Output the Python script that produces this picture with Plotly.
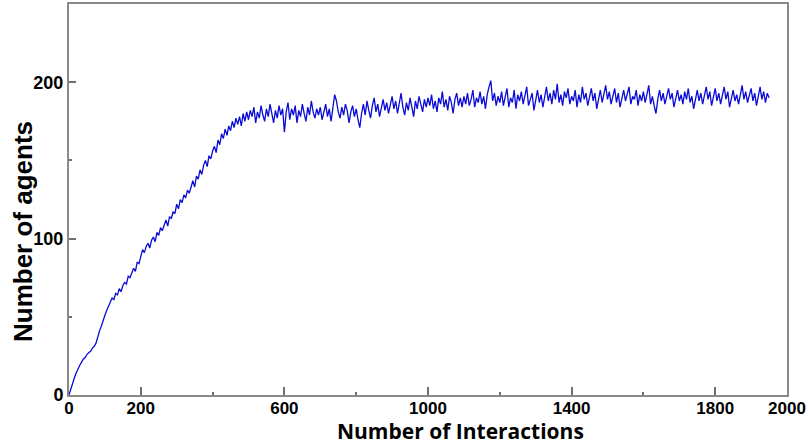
import plotly.graph_objects as go

# Interactions sampled every 5 steps (0 .. 1950)
interactions = list(range(0, 1951, 5))

# Number of agents (every 5 interactions)
agents = [
    0, 4, 8, 11, 14, 17, 19, 21, 23, 24, 26, 27, 28, 30, 31, 33, 38, 41, 44, 48,
    51, 54, 57, 59, 62, 61, 65, 64, 68, 66, 70, 72, 71, 76, 75, 78, 81, 79, 85, 84,
    89, 93, 91, 95, 97, 94, 99, 101, 98, 104, 102, 107, 105, 109, 112, 108, 114, 113, 117, 116,
    122, 119, 125, 123, 128, 126, 131, 129, 134, 137, 133, 140, 138, 144, 141, 147, 150, 146, 153, 151,
    156, 159, 155, 163, 160, 167, 164, 170, 166, 172, 169, 175, 171, 177, 173, 178, 172, 180, 175, 181,
    176, 182, 178, 184, 174, 181, 177, 185, 179, 175, 183, 178, 186, 180, 174, 182, 177, 185, 179, 183,
    168, 181, 187, 176, 183, 179, 185, 174, 182, 178, 186, 180, 175, 184, 179, 188, 181, 177, 183, 179,
    184, 176, 182, 186, 178, 183, 175, 185, 192, 188, 181, 177, 184, 179, 186, 182, 174, 181, 185, 178,
    183, 176, 171, 180, 186, 179, 188, 182, 177, 185, 190, 181, 186, 178, 184, 189, 182, 187, 180, 185,
    191, 183, 188, 180, 186, 193, 184, 179, 187, 182, 190, 185, 178, 188, 183, 191, 185, 181, 189, 184,
    190, 185, 192, 183, 188, 181, 190, 186, 194, 184, 189, 182, 191, 187, 180, 189, 193, 185, 190, 184,
    191, 186, 193, 185, 189, 195, 184, 190, 187, 194, 186, 191, 183, 192, 197, 201, 188, 193, 185, 191,
    187, 194, 185, 191, 196, 184, 190, 187, 195, 183, 192, 188, 194, 186, 191, 197, 185, 190, 193, 182,
    190, 195, 187, 192, 184, 191, 197, 188, 193, 186, 195, 189, 199, 187, 192, 185, 194, 190, 196, 186,
    191, 188, 195, 184, 192, 187, 197, 189, 193, 185, 191, 196, 188, 193, 183, 190, 195, 187, 192, 198,
    189, 194, 186, 191, 196, 187, 193, 184, 190, 195, 188, 192, 197, 186, 191, 189, 195, 185, 192, 188,
    194, 187, 192, 198, 186, 191, 185, 180, 189, 195, 188, 193, 186, 191, 196, 189, 193, 184, 190, 195,
    188, 192, 186, 194, 189, 196, 187, 191, 183, 190, 195, 188, 193, 186, 192, 197, 189, 194, 185, 191,
    196, 188, 193, 186, 191, 197, 189, 194, 184, 190, 195, 188, 192, 186, 193, 198, 189, 194, 187, 192,
    196, 188, 193, 185, 191, 197, 189, 194, 187, 193, 190,
]

x_major = [0, 200, 600, 1000, 1400, 1800, 2000]
x_major_text = ["0", "200", "600", "1000", "1400", "1800", "2000"]
x_minor = [400, 800, 1200, 1600]
x_top = [0, 200, 400, 600, 800, 1000, 1200, 1400, 1600, 1800, 2000]
y_major = [0, 100, 200]
y_minor = [50, 150]
y_right = [0, 50, 100, 150, 200, 250]

AX = "#8a8a8a"
TK = "#707070"
xtickfont = dict(family="Liberation Sans, Arial, sans-serif", size=17, color="black", weight="bold")
ytickfont = dict(family="Liberation Sans, Arial, sans-serif", size=18, color="black", weight="bold")

fig = go.Figure()
fig.add_trace(go.Scatter(
    x=interactions, y=agents, mode="lines",
    line=dict(color="#0b0bd6", width=1.3),
    showlegend=False, hoverinfo="skip",
))

fig.update_layout(
    width=808, height=444,
    margin=dict(l=69, r=21, t=2, b=49),
    paper_bgcolor="white", plot_bgcolor="white",
    xaxis=dict(
        range=[0, 2000], tickmode="array", tickvals=x_major, ticktext=x_major_text,
        ticks="inside", ticklen=8, tickwidth=1.5, tickcolor=TK,
        minor=dict(tickmode="array", tickvals=x_minor, ticks="inside", ticklen=3, tickwidth=1.5, tickcolor=TK),
        showline=True, linecolor=AX, linewidth=2, mirror=True,
        showgrid=False, zeroline=False, tickfont=xtickfont, ticklabelstandoff=-3,
    ),
    xaxis2=dict(
        range=[0, 2000], overlaying="x", side="top", tickmode="array", tickvals=x_top,
        ticks="inside", ticklen=8, tickwidth=1.5, tickcolor=TK, showticklabels=False,
        showline=False, showgrid=False, zeroline=False,
    ),
    yaxis=dict(
        range=[0, 250], tickmode="array", tickvals=y_major,
        ticks="inside", ticklen=7, tickwidth=1.5, tickcolor=TK,
        minor=dict(tickmode="array", tickvals=y_minor, ticks="inside", ticklen=3, tickwidth=1.5, tickcolor=TK),
        showline=True, linecolor=AX, linewidth=2, mirror=True,
        showgrid=False, zeroline=False, tickfont=ytickfont,
    ),
    yaxis2=dict(
        range=[0, 250], overlaying="y", side="right", tickmode="array", tickvals=y_right,
        ticks="inside", ticklen=7, tickwidth=1.5, tickcolor=TK, showticklabels=False,
        showline=False, showgrid=False, zeroline=False,
    ),
    annotations=[
        dict(text="Number of agents", textangle=-90, xref="paper", yref="paper",
             x=-0.064, y=0.417, xanchor="center", yanchor="middle", showarrow=False,
             font=dict(family="Liberation Sans, Arial, sans-serif", size=26, color="black", weight="bold")),
        dict(text="Number of Interactions", xref="paper", yref="paper",
             x=0.5446, y=-0.0916, xanchor="center", yanchor="middle", showarrow=False,
             font=dict(family="Open Sans, sans-serif", size=21, color="black", weight="bold")),
    ],
)

fig.write_html("out.html", config={"displayModeBar": False},
               post_script="document.body.style.margin='0px';")
